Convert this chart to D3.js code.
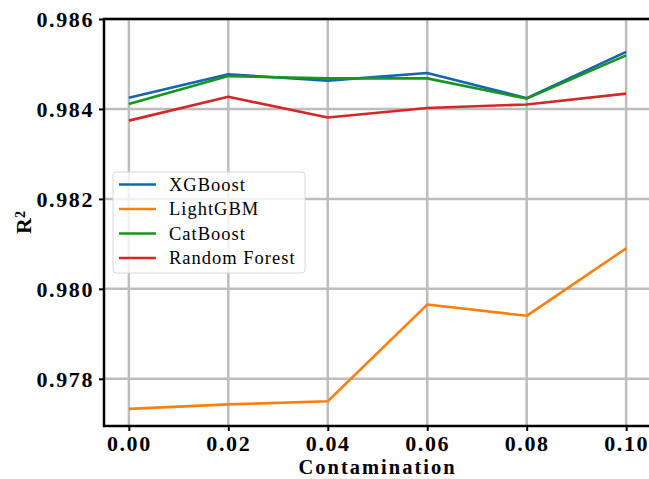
<!DOCTYPE html>
<html>
<head>
<meta charset="utf-8">
<script src="https://cdn.jsdelivr.net/npm/d3@7"></script>
<style>
  html, body { margin: 0; padding: 0; background: #fff; }
  svg { display: block; }
  text { font-family: "Liberation Serif", "DejaVu Serif", serif; font-weight: bold; fill: #000; }
</style>
</head>
<body>
<svg id="chart" width="649" height="479"></svg>
<script>
// Contamination levels and R² scores per model
const contamination = [0.00, 0.02, 0.04, 0.06, 0.08, 0.10];
const xgboost      = [0.98425, 0.98477, 0.98463, 0.98480, 0.98424, 0.98527];
const lightgbm     = [0.97733, 0.97743, 0.97750, 0.97965, 0.97940, 0.98090];
const catboost     = [0.98411, 0.98473, 0.98468, 0.98468, 0.98423, 0.98519];
const randomForest = [0.98374, 0.98427, 0.98381, 0.98402, 0.98410, 0.98434];

const modelNames = ["XGBoost", "LightGBM", "CatBoost", "Random Forest"];
const modelValues = [xgboost, lightgbm, catboost, randomForest];
const modelColors = ["#1465b0", "#ff7f0e", "#16961c", "#d62728"];

const xTicks = [0.00, 0.02, 0.04, 0.06, 0.08, 0.10];
const yTicks = [0.978, 0.980, 0.982, 0.984, 0.986];

const svg = d3.select("#chart");
const plot = { left: 104, right: 651, top: 19, bottom: 426 };

const x = d3.scaleLinear().domain([-0.005, 0.105]).range([plot.left, plot.right]);
const y = d3.scaleLinear().domain([0.97695, 0.986]).range([plot.bottom, plot.top]);

// grid
const grid = svg.append("g").attr("stroke", "#bdbdbd").attr("stroke-width", 2.5);
grid.selectAll("line.gx").data(xTicks).join("line")
  .attr("x1", d => x(d)).attr("x2", d => x(d))
  .attr("y1", plot.top).attr("y2", plot.bottom);
grid.selectAll("line.gy").data(yTicks).join("line")
  .attr("y1", d => y(d)).attr("y2", d => y(d))
  .attr("x1", plot.left).attr("x2", plot.right);

// series
const line = d3.line().x((d, i) => x(contamination[i])).y(d => y(d));
svg.append("g").selectAll("path").data(modelValues).join("path")
  .attr("d", d => line(d))
  .attr("fill", "none")
  .attr("stroke", (d, i) => modelColors[i])
  .attr("stroke-width", 2.6)
  .attr("stroke-linejoin", "round");

// axes
const xAxis = d3.axisBottom(x).tickValues(xTicks).tickFormat(d3.format(".2f")).tickSize(5).tickPadding(4);
const yAxis = d3.axisLeft(y).tickValues(yTicks).tickFormat(d3.format(".3f")).tickSize(5).tickPadding(5);

const gx = svg.append("g").attr("transform", `translate(0,${plot.bottom})`).call(xAxis);
const gy = svg.append("g").attr("transform", `translate(${plot.left},0)`).call(yAxis);
[gx, gy].forEach(g => {
  g.select(".domain").remove();
  g.selectAll(".tick line").attr("stroke", "#000").attr("stroke-width", 2);
  g.selectAll(".tick text").style("font-size", "22px").style("letter-spacing", "1.6px")
    .style("font-family", "'Liberation Serif', serif").style("font-weight", "bold").attr("fill", "#000");
});
gy.selectAll(".tick text").attr("dy", "0.34em");

// spines
svg.append("rect")
  .attr("x", plot.left).attr("y", plot.top)
  .attr("width", plot.right - plot.left).attr("height", plot.bottom - plot.top)
  .attr("fill", "none").attr("stroke", "#000").attr("stroke-width", 2.5);

// axis titles
svg.append("text")
  .attr("x", (plot.left + plot.right) / 2).attr("y", 474)
  .attr("text-anchor", "middle")
  .style("font-size", "20.5px").style("letter-spacing", "2px")
  .text("Contamination");

const yl = svg.append("text")
  .attr("transform", `translate(31,${(plot.top + plot.bottom) / 2}) rotate(-90)`)
  .attr("text-anchor", "middle")
  .style("font-size", "22px");
yl.append("tspan").text("R");
yl.append("tspan").attr("dy", "-0.45em").style("font-size", "14px").text("2");

// legend
const legend = svg.append("g").attr("transform", "translate(113,172)");
legend.append("rect")
  .attr("width", 192).attr("height", 101).attr("rx", 3)
  .attr("fill", "#fff").attr("fill-opacity", 0.8)
  .attr("stroke", "#d8d8d8").attr("stroke-width", 1);
const items = legend.selectAll("g.item").data(modelNames).join("g")
  .attr("transform", (d, i) => `translate(0,${12.5 + i * 24.5})`);
items.append("line")
  .attr("x1", 6).attr("x2", 43).attr("y1", 0).attr("y2", 0)
  .attr("stroke", (d, i) => modelColors[i]).attr("stroke-width", 2.6);
items.append("text")
  .attr("x", 56).attr("dy", "0.35em")
  .style("font-size", "18.5px").style("font-weight", "normal").style("letter-spacing", "1px")
  .text(d => d);
</script>
</body>
</html>
